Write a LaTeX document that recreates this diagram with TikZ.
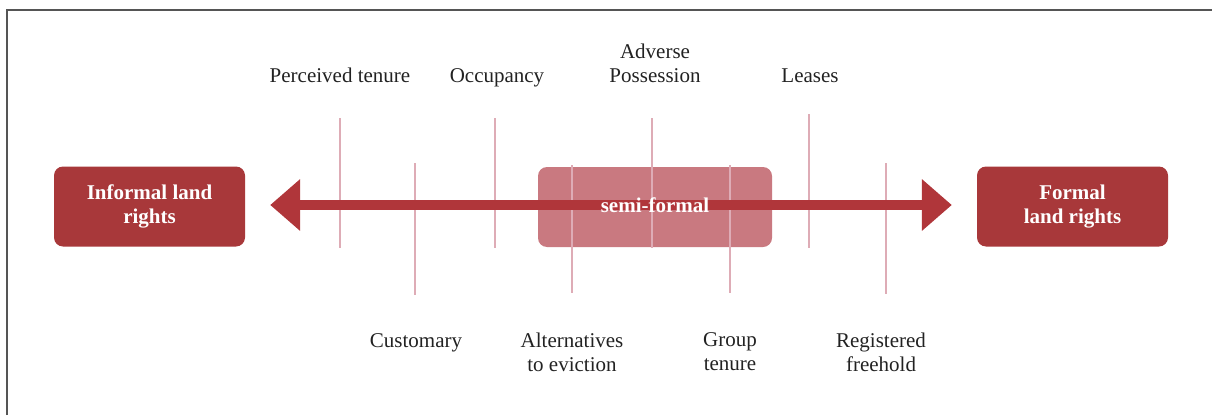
\documentclass[tikz,border=0pt]{standalone}
\usepackage{fontspec}
\setmainfont{Liberation Serif}
\usetikzlibrary{arrows.meta}
\definecolor{boxred}{RGB}{168,56,58}
\definecolor{semired}{RGB}{201,121,128}
\definecolor{arrowred}{RGB}{176,54,58}
\definecolor{tickpink}{RGB}{222,172,182}
\definecolor{txt}{RGB}{34,34,34}
\definecolor{framegray}{RGB}{85,85,85}
\tikzset{
  endbox/.style={draw=none, fill=boxred, rounded corners=9pt, minimum width=191pt, minimum height=80pt,
    text=white, font=\fontsize{21}{24}\selectfont\bfseries, align=center, inner sep=0pt},
  semibox/.style={draw=none, fill=semired, rounded corners=9pt, minimum width=234pt, minimum height=80pt, inner sep=0pt},
  lbl/.style={text=txt, font=\fontsize{21}{24}\selectfont, align=center, inner sep=0pt},
  tickline/.style={draw=tickpink, line width=1.8pt},
  bigarrow/.style={draw=arrowred, line width=10pt, {Triangle[length=30pt,width=50pt]}-{Triangle[length=30pt,width=50pt]}},
  framel/.style={draw=framegray, line width=1.6pt}
}
\begin{document}
\begin{tikzpicture}[x=1pt,y=-1pt]
\useasboundingbox (0,0) rectangle (1212,415);
\draw[framel] (7,415) -- (7,10) -- (1212,10);
% semi-formal box (beneath ticks and arrow)
\node[semibox] (semi) at (655,207) {};
% ticks
\draw[tickline] (340,118) -- (340,248);
\draw[tickline] (495,118) -- (495,248);
\draw[tickline] (652,118) -- (652,248);
\draw[tickline] (809,114) -- (809,248);
\draw[tickline] (415,163) -- (415,295);
\draw[tickline] (572,165) -- (572,293);
\draw[tickline] (730,165) -- (730,293);
\draw[tickline] (886,163) -- (886,294);
% end boxes
\node[endbox] (inf) at (149.5,206.5) {Informal land\\rights};
\node[endbox] (form) at (1072.5,206.5) {Formal\\land rights};
% arrow
\draw[bigarrow] ([xshift=25pt]inf.east |- 0,205) -- ([xshift=-25pt]form.west |- 0,205);
\node[text=white, font=\fontsize{21}{24}\selectfont\bfseries, inner sep=0pt] (semilbl) at (655,205) {semi-formal};
% top labels
\node[lbl, anchor=base] (pt) at (340,82) {Perceived tenure};
\node[lbl, anchor=base] (occ) at (497,82) {Occupancy};
\node[lbl] (adv) at (655,63) {Adverse\\Possession};
\node[lbl, anchor=base] (lea) at (810,82) {Leases};
% bottom labels
\node[lbl, anchor=base] (cus) at (416,347) {Customary};
\node[lbl] (alt) at (572,352) {Alternatives\\to eviction};
\node[lbl] (grp) at (730,352) {Group\\tenure};
\node[lbl] (reg) at (881,352) {Registered\\freehold};
\end{tikzpicture}
\end{document}
